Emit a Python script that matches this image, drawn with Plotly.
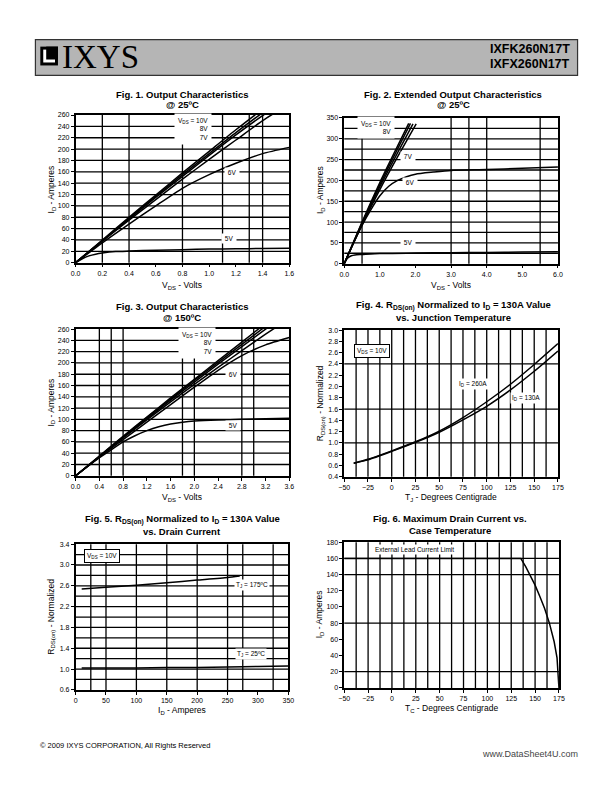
import plotly.graph_objects as go

W, H = 612, 792
FONT = "Arial, Liberation Sans, Helvetica, sans-serif"

# ---------------- data ----------------
# Fig 1: Output characteristics @ 25C
f1_v = [0, 0.2, 0.4, 0.6, 0.8, 1.0, 1.2, 1.4, 1.6]
f1_10v = [0, 40, 80, 119, 158, 196, 234, 270, 300]
f1_9v = [0, 39, 78, 117, 155, 192, 229, 264, 296]
f1_8v = [0, 38.5, 77, 115, 152, 189, 225, 259, 290]
f1_7v = [0, 38, 75, 111, 147, 182, 216, 250, 280]
f1_6v = [0, 35, 68, 100, 131, 155, 175, 192, 203]
f1_5v_v = [0, 0.05, 0.1, 0.15, 0.2, 0.3, 0.4, 0.6, 0.8, 1.0, 1.2, 1.4, 1.6]
f1_5v = [0, 7, 12, 15, 17, 19.5, 20.5, 22, 23, 24, 24.5, 25, 25.5]

# Fig 2: Extended output characteristics @ 25C
f2_10v_v = [0, 0.5, 1.0, 1.5, 1.81]
f2_10v = [0, 100, 195, 283, 337]
f2_9v_v = [0, 0.5, 1.0, 1.5, 1.86]
f2_9v = [0, 98, 190, 276, 337]
f2_8v_v = [0, 0.5, 1.0, 1.5, 1.93]
f2_8v = [0, 96, 185, 267, 336]
f2_7v_v = [0, 0.5, 1.0, 1.5, 2.02]
f2_7v = [0, 93, 178, 257, 336]
f2_6v_v = [0, 0.25, 0.5, 0.75, 1.0, 1.25, 1.5, 1.75, 2.0, 2.5, 3.0, 4.0, 5.0, 6.0]
f2_6v = [0, 48, 92, 130, 163, 186, 200, 209, 215, 220, 224, 226, 229, 232]
f2_5v_v = [0, 0.05, 0.1, 0.2, 0.3, 0.5, 1.0, 2.0, 3.0, 4.0, 5.0, 6.0]
f2_5v = [0, 8, 14, 19, 21, 22, 24.5, 25.5, 26.5, 27, 28, 28.5]

# Fig 3: Output characteristics @ 150C
f3_v = [0, 0.4, 0.8, 1.2, 1.6, 2.0, 2.4, 2.8, 3.2, 3.6]
f3_10v = [0, 35, 70, 104, 138, 171, 204, 237, 270, 302]
f3_9v = [0, 34.5, 69, 103, 136, 169, 201, 233, 265, 296]
f3_8v = [0, 34, 68, 101, 134, 166, 198, 229, 260, 290]
f3_7v = [0, 33.5, 67, 99, 131, 162, 192, 222, 251, 279]
f3_6v = [0, 33, 64, 95, 126, 157, 187, 213, 232, 245]
f3_5v_v = [0, 0.4, 0.6, 0.8, 1.0, 1.2, 1.4, 1.6, 1.8, 2.0, 2.4, 2.8, 3.2, 3.6]
f3_5v = [0, 32, 46, 60, 71, 80, 87, 92, 95, 97, 99, 100, 101, 102]

# Fig 4: RDS(on) vs junction temperature
f4_t = [-40, -25, 0, 25, 50, 75, 100, 125, 150, 175]
f4_260a = [0.64, 0.71, 0.86, 1.02, 1.21, 1.45, 1.73, 2.04, 2.39, 2.76]
f4_130a = [0.64, 0.70, 0.85, 1.01, 1.19, 1.41, 1.65, 1.94, 2.27, 2.63]

# Fig 5: RDS(on) vs drain current
f5_175_id = [10, 50, 100, 150, 200, 250, 270]
f5_175 = [2.54, 2.57, 2.61, 2.66, 2.71, 2.76, 2.79]
f5_25_id = [10, 50, 100, 150, 200, 250, 300, 350]
f5_25 = [1.02, 1.02, 1.02, 1.03, 1.03, 1.04, 1.05, 1.06]

# Fig 6: Max drain current vs case temperature
f6_t = [-50, 135, 140, 145, 150, 155, 160, 165, 170, 173, 175]
f6_id = [160, 160, 150, 139, 127, 113, 98, 80, 57, 37, 0]

# ticks and grid values
f1_xticks = [0, 0.2, 0.4, 0.6, 0.8, 1.0, 1.2, 1.4, 1.6]
f1_yticks = list(range(0, 261, 20))
f1_xgrid = [0.2, 0.4, 0.8, 1.1, 1.3, 1.4]
f1_ygrid = list(range(20, 241, 20))

f2_xticks = [0, 1, 2, 3, 4, 5, 6]
f2_yticks = list(range(0, 351, 50))
f2_xgrid = [0.5, 3.0, 3.5, 4.0, 5.5]
f2_ygrid = list(range(25, 326, 25))

f3_xticks = [0, 0.4, 0.8, 1.2, 1.6, 2.0, 2.4, 2.8, 3.2, 3.6]
f3_yticks = list(range(0, 261, 20))
f3_xgrid = [0.4, 0.6, 0.8, 1.8, 2.0, 2.8, 3.0]
f3_ygrid = list(range(20, 241, 20))

f4_xticks = list(range(-50, 176, 25))
f4_yticks = [0.4, 0.6, 0.8, 1.0, 1.2, 1.4, 1.6, 1.8, 2.0, 2.2, 2.4, 2.6, 2.8, 3.0]
f4_xgrid = [-37.5 + 12.5 * k for k in range(17)]
f4_ygrid = [1.0, 1.6, 2.4]

f5_xticks = list(range(0, 351, 50))
f5_yticks = [0.6, 1.0, 1.4, 1.8, 2.2, 2.6, 3.0, 3.4]
f5_xgrid = [25, 50, 100, 150, 200, 250, 275, 325]
f5_ygrid = [0.8, 1.0, 1.2, 1.4, 1.6, 1.8, 2.0, 2.2, 2.4, 2.6, 2.8, 3.0, 3.2]

f6_xticks = list(range(-50, 176, 25))
f6_yticks = list(range(0, 181, 20))
f6_xgrid = [-37.5 + 12.5 * k for k in range(17)]
f6_ygrid = [20, 80, 140, 160]


def px(x):
    return x / W


def py(y):
    return 1 - y / H


fig = go.Figure()

panels = [
    dict(box=(71, 289, 112, 261), xr=[0, 1.6], yr=[0, 260], xt=f1_xticks, yt=f1_yticks,
         xf=".1f", yf="d", xg=f1_xgrid, yg=f1_ygrid),
    dict(box=(345, 563, 115, 262), xr=[0, 6], yr=[0, 350], xt=f2_xticks, yt=f2_yticks,
         xf=".1f", yf="d", xg=f2_xgrid, yg=f2_ygrid),
    dict(box=(71, 289, 328, 476), xr=[0, 3.6], yr=[0, 260], xt=f3_xticks, yt=f3_yticks,
         xf=".1f", yf="d", xg=f3_xgrid, yg=f3_ygrid),
    dict(box=(345, 563, 329, 477), xr=[-50, 175], yr=[0.4, 3.0], xt=f4_xticks, yt=f4_yticks,
         xf="d", yf=".1f", xg=f4_xgrid, yg=f4_ygrid),
    dict(box=(71, 288, 545, 692), xr=[0, 350], yr=[0.6, 3.4], xt=f5_xticks, yt=f5_yticks,
         xf="d", yf=".1f", xg=f5_xgrid, yg=f5_ygrid),
    dict(box=(345, 564, 543, 690), xr=[-50, 175], yr=[0, 180], xt=f6_xticks, yt=f6_yticks,
         xf="d", yf="d", xg=f6_xgrid, yg=f6_ygrid),
]

series = [
    (1, f1_v, f1_10v), (1, f1_v, f1_9v), (1, f1_v, f1_8v), (1, f1_v, f1_7v),
    (1, f1_v, f1_6v), (1, f1_5v_v, f1_5v),
    (2, f2_10v_v, f2_10v), (2, f2_9v_v, f2_9v), (2, f2_8v_v, f2_8v), (2, f2_7v_v, f2_7v),
    (2, f2_6v_v, f2_6v), (2, f2_5v_v, f2_5v),
    (3, f3_v, f3_10v), (3, f3_v, f3_9v), (3, f3_v, f3_8v), (3, f3_v, f3_7v),
    (3, f3_v, f3_6v), (3, f3_5v_v, f3_5v),
    (4, f4_t, f4_260a), (4, f4_t, f4_130a),
    (5, f5_175_id, f5_175), (5, f5_25_id, f5_25),
]


def ref(i):
    return ("x", "y") if i == 1 else (f"x{i}", f"y{i}")


for i, xs, ys in series:
    xr_, yr_ = ref(i)
    fig.add_trace(go.Scatter(x=xs, y=ys, mode="lines", xaxis=xr_, yaxis=yr_,
                             line=dict(color="black", width=1.5, shape="spline", smoothing=0.6),
                             showlegend=False, hoverinfo="skip"))
xr6, yr6 = ref(6)
fig.add_trace(go.Scatter(x=f6_t, y=f6_id, mode="lines", xaxis=xr6, yaxis=yr6,
                         line=dict(color="black", width=1.5), showlegend=False, hoverinfo="skip"))

layout = {}
shapes = []
for n, p in enumerate(panels, start=1):
    l, r, t, b = p["box"]
    xk = "xaxis" if n == 1 else f"xaxis{n}"
    yk = "yaxis" if n == 1 else f"yaxis{n}"
    xr_, yr_ = ref(n)
    common = dict(ticks="outside", ticklen=3, tickwidth=1, tickcolor="black",
                  showgrid=False, zeroline=False, showline=True, linecolor="black",
                  linewidth=1.5, mirror=True, tickmode="array",
                  tickfont=dict(size=7, family=FONT, color="black"), fixedrange=True)
    layout[xk] = dict(domain=[px(l), px(r)], range=p["xr"], anchor=yr_,
                      tickvals=p["xt"], tickformat=p["xf"], **common)
    layout[yk] = dict(domain=[py(b), py(t)], range=p["yr"], anchor=xr_,
                      tickvals=p["yt"], tickformat=p["yf"], **common)
    for v in p["xg"]:
        shapes.append(dict(type="line", xref=xr_, yref=f"{yr_} domain", x0=v, x1=v, y0=0, y1=1,
                           line=dict(color="black", width=1.3), layer="below"))
    for v in p["yg"]:
        shapes.append(dict(type="line", xref=f"{xr_} domain", yref=yr_, x0=0, x1=1, y0=v, y1=v,
                           line=dict(color="black", width=1.3), layer="below"))

# header
shapes.append(dict(type="rect", xref="paper", yref="paper", x0=px(30), x1=px(583),
                   y0=py(72), y1=py(36), fillcolor="#b5b5b5", line=dict(color="#333", width=1.2),
                   layer="below"))
shapes.append(dict(type="rect", xref="paper", yref="paper", x0=px(35), x1=px(53),
                   y0=py(62), y1=py(43), fillcolor="black", line=dict(width=0)))
shapes.append(dict(type="rect", xref="paper", yref="paper", x0=px(38), x1=px(50),
                   y0=py(59), y1=py(46), fillcolor="white", line=dict(width=0)))
shapes.append(dict(type="rect", xref="paper", yref="paper", x0=px(41), x1=px(53),
                   y0=py(56), y1=py(43), fillcolor="black", line=dict(width=0)))

ann = []


def t_ann(text, x, y, size=9.5, bold=True, xanchor="center", **kw):
    ann.append(dict(text=f"<b>{text}</b>" if bold else text, x=px(x), y=py(y), xref="paper",
                    yref="paper", showarrow=False, xanchor=xanchor, yanchor="middle",
                    font=dict(size=size, family=FONT, color="black"), **kw))


t_ann("IXYS", 55, 53, size=33, bold=False, xanchor="left")
ann[-1]["font"]["family"] = "Liberation Serif, DejaVu Serif, serif"
t_ann("IXFK260N17T", 577, 45, size=12.5, xanchor="right")
t_ann("IXFX260N17T", 577, 61, size=12.5, xanchor="right")

# titles
t_ann("Fig. 1. Output Characteristics", 180, 91)
t_ann("@ 25ºC", 180, 101)
t_ann("Fig. 2. Extended Output Characteristics", 456, 91)
t_ann("@ 25ºC", 456, 101)
t_ann("Fig. 3. Output Characteristics", 180, 305)
t_ann("@ 150ºC", 180, 316)
t_ann("Fig. 4. R<sub>DS(on)</sub> Normalized to I<sub>D</sub> = 130A Value", 456, 304)
t_ann("vs. Junction Temperature", 456, 316)
t_ann("Fig. 5. R<sub>DS(on)</sub> Normalized to I<sub>D</sub> = 130A Value", 180, 520)
t_ann("vs. Drain Current", 180, 532)
t_ann("Fig. 6. Maximum Drain Current vs.", 453, 519)
t_ann("Case Temperature", 453, 531)

# axis titles
AX = 8.5
t_ann("V<sub>DS</sub> - Volts", 180, 284, size=AX, bold=False)
t_ann("I<sub>D</sub> - Amperes", 46, 187, size=AX, bold=False, textangle=-90)
t_ann("V<sub>DS</sub> - Volts", 454, 284, size=AX, bold=False)
t_ann("I<sub>D</sub> - Amperes", 321, 188, size=AX, bold=False, textangle=-90)
t_ann("V<sub>DS</sub> - Volts", 180, 498, size=AX, bold=False)
t_ann("I<sub>D</sub> - Amperes", 46, 402, size=AX, bold=False, textangle=-90)
t_ann("T<sub>J</sub> - Degrees Centigrade", 454, 498, size=AX, bold=False)
t_ann("R<sub>DS(on)</sub> - Normalized", 321, 403, size=AX, bold=False, textangle=-90)
t_ann("I<sub>D</sub> - Amperes", 180, 713, size=AX, bold=False)
t_ann("R<sub>DS(on)</sub> - Normalized", 46, 618, size=AX, bold=False, textangle=-90)
t_ann("T<sub>C</sub> - Degrees Centigrade", 454, 711, size=AX, bold=False)
t_ann("I<sub>D</sub> - Amperes", 320, 616, size=AX, bold=False, textangle=-90)

# footer
t_ann("© 2009 IXYS CORPORATION, All Rights Reserved", 33, 748, size=7.5, bold=False, xanchor="left")
t_ann("www.DataSheet4U.com", 585, 757, size=9, bold=False, xanchor="right")
ann[-1]["font"]["color"] = "#444"


def d_ann(n, text, x, y, size=6.5, box=False, **kw):
    xr_, yr_ = ref(n)
    a = dict(text=text, x=x, y=y, xref=xr_, yref=yr_, showarrow=False, bgcolor="white",
             xanchor="center", yanchor="middle",
             font=dict(size=size, family=FONT, color="black"), **kw)
    if box:
        a.update(bordercolor="black", borderwidth=1, borderpad=2)
    ann.append(a)


d_ann(1, "V<sub>DS</sub> = 10V<br>8V<br>7V", 0.88, 236, align="right", borderpad=3)
d_ann(1, " 6V ", 1.17, 159)
d_ann(1, " 5V ", 1.15, 42)
d_ann(2, "V<sub>DS</sub> = 10V<br>8V", 0.9, 326, align="right", borderpad=3)
d_ann(2, " 7V ", 1.79, 257)
d_ann(2, " 6V ", 1.84, 195)
d_ann(2, " 5V ", 1.79, 50)
d_ann(3, "V<sub>DS</sub> = 10V<br>8V<br>7V", 2.05, 236, align="right", borderpad=3)
d_ann(3, " 6V ", 2.65, 179)
d_ann(3, " 5V ", 2.65, 89)
d_ann(4, "V<sub>DS</sub> = 10V", -21, 2.63, box=True)
d_ann(4, "I<sub>D</sub> = 260A", 86, 2.05)
d_ann(4, "I<sub>D</sub> = 130A", 141, 1.79)
d_ann(5, "V<sub>DS</sub> = 10V", 43, 3.18, box=True)
d_ann(5, "T<sub>J</sub> = 175ºC", 291, 2.62)
d_ann(5, "T<sub>J</sub> = 25ºC", 289, 1.29)
d_ann(6, "External Lead Current Limit", 24, 171)

fig.update_layout(width=W, height=H, margin=dict(l=0, r=0, t=0, b=0),
                  paper_bgcolor="white", plot_bgcolor="white", showlegend=False,
                  shapes=shapes, annotations=ann, **layout)

fig.write_html("out.html", config={"displayModeBar": False})
